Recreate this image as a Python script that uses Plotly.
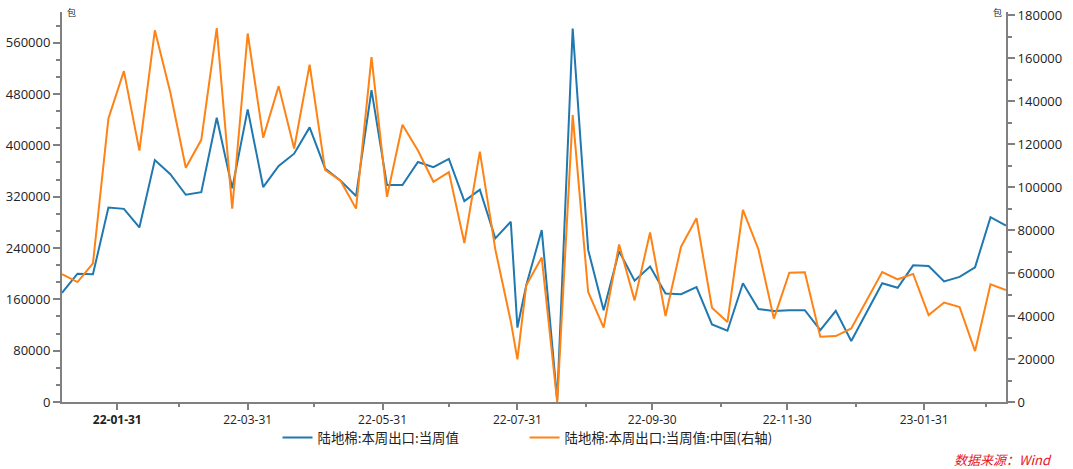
import pandas as pd
import plotly.graph_objects as go

# Weekly report dates (Thursdays) plus one month-end record on 2022-07-31
dates = list(pd.date_range("2022-01-06", "2023-03-09", freq="7D").strftime("%Y-%m-%d"))
dates.insert(dates.index("2022-07-28") + 1, "2022-07-31")

# 陆地棉:本周出口:当周值 (left axis, 包)
exports_total = [
    170000, 200000, 199000, 303000, 301000, 272000, 377000, 355000, 323000, 327000,
    443000, 333000, 456000, 335000, 368000, 387000, 428000, 364000, 345000, 321000,
    486000, 338000, 338000, 374000, 366000, 379000, 313000, 331000, 255000, 281000,
    116000, 182000, 268000, 3000, 582000, 237000, 143000, 235000, 189000, 211000,
    169000, 168000, 179000, 121000, 111000, 185000, 145000, 142000, 143000, 143000,
    112000, 142000, 95000, 139000, 185000, 178000, 213000, 212000, 188000, 195000,
    210000, 288000, 275000,
]

# 陆地棉:本周出口:当周值:中国 (right axis, 包)
exports_china = [
    59500, 55800, 64500, 132000, 154000, 117000, 173000, 144000, 109000, 122000,
    174000, 90000, 171500, 123000, 147000, 118000, 157000, 108000, 103000, 90000,
    160500, 95500, 129000, 117000, 102500, 107000, 74000, 116500, 71000, 37500,
    19800, 54300, 67200, 0, 133600, 51200, 34600, 73300, 47300, 78900,
    40000, 72200, 85500, 43900, 37200, 89400, 71100, 38800, 60200, 60400,
    30400, 30700, 34200, 47000, 60500, 57100, 59600, 40500, 46300, 44200,
    23700, 54800, 52100,
]

tick_dates = ["2022-01-31", "2022-03-31", "2022-05-31", "2022-07-31",
              "2022-09-30", "2022-11-30", "2023-01-31"]
tick_labels = ["<b>22-01-31</b>", "22-03-31", "22-05-31", "22-07-31",
               "22-09-30", "22-11-30", "23-01-31"]
minor_dates = ["2022-02-28", "2022-04-30", "2022-06-30", "2022-08-31",
               "2022-10-31", "2022-12-31", "2023-02-28"]

name_total = "陆地棉:本周出口:当周值"
name_china = "陆地棉:本周出口:当周值:中国(右轴)"

CJK_FONT = "Noto Sans CJK SC, sans-serif"
NUM_FONT = "Open Sans, sans-serif"
AXIS_GRAY = "#808080"
BLUE = "#1f78b0"
ORANGE = "#ff8214"

fig = go.Figure()
fig.add_trace(go.Scatter(x=dates, y=exports_total, name=name_total, mode="lines",
                         line=dict(color=BLUE, width=2), yaxis="y", legend="legend"))
fig.add_trace(go.Scatter(x=dates, y=exports_china, name=name_china, mode="lines",
                         line=dict(color=ORANGE, width=2), yaxis="y2", legend="legend2"))

legend_style = dict(orientation="h", xanchor="left", y=-0.092, yanchor="middle",
                    font=dict(family=CJK_FONT, size=13.4, color="#222"),
                    bgcolor="rgba(0,0,0,0)")

fig.update_layout(
    width=1073, height=469,
    margin=dict(l=62, r=67, t=12, b=67, autoexpand=False),
    paper_bgcolor="white", plot_bgcolor="white",
    font=dict(family=CJK_FONT, size=13, color="#222"),
    showlegend=True,
    legend=dict(x=0.2283, **legend_style),
    legend2=dict(x=0.4900, **legend_style),
    xaxis=dict(
        type="date", range=["2022-01-06", "2023-03-09"],
        showline=True, linecolor=AXIS_GRAY, linewidth=2, mirror=False,
        showgrid=False, zeroline=False,
        tickmode="array", tickvals=tick_dates, ticktext=tick_labels,
        ticks="outside", ticklen=6, tickwidth=1.5, tickcolor=AXIS_GRAY,
        tickfont=dict(family=NUM_FONT, size=12, color="#222"),
        minor=dict(tickmode="array", tickvals=minor_dates, ticks="outside",
                   ticklen=3, tickwidth=1.5, tickcolor=AXIS_GRAY, showgrid=False),
    ),
    yaxis=dict(
        range=[0, 607800], tickmode="linear", tick0=0, dtick=80000, tickformat="d",
        showline=True, linecolor=AXIS_GRAY, linewidth=2,
        showgrid=False, zeroline=False,
        ticks="outside", ticklen=7, tickwidth=1.5, tickcolor=AXIS_GRAY,
        tickfont=dict(family=NUM_FONT, size=13, color="#222"),
        minor=dict(dtick=80000 / 3, tick0=0, ticks="outside", ticklen=4,
                   tickwidth=1.5, tickcolor=AXIS_GRAY, showgrid=False),
    ),
    yaxis2=dict(
        range=[0, 181500], tickmode="linear", tick0=0, dtick=20000, tickformat="d",
        overlaying="y", side="right",
        showline=True, linecolor=AXIS_GRAY, linewidth=2,
        showgrid=False, zeroline=False,
        ticks="outside", ticklen=7, tickwidth=1.5, tickcolor=AXIS_GRAY,
        tickfont=dict(family=NUM_FONT, size=13, color="#222"),
        minor=dict(dtick=10000, tick0=0, ticks="outside", ticklen=4,
                   tickwidth=1.5, tickcolor=AXIS_GRAY, showgrid=False),
    ),
    annotations=[
        dict(text="包", xref="paper", yref="paper", x=0.0, y=1.0, xanchor="left",
             yanchor="middle", xshift=3, yshift=0, showarrow=False,
             font=dict(size=9, color="#222")),
        dict(text="包", xref="paper", yref="paper", x=1.0, y=1.0, xanchor="right",
             yanchor="middle", xshift=-2, yshift=0, showarrow=False,
             font=dict(size=9, color="#222")),
        dict(text="<i>数据来源：Wind</i>", xref="paper", yref="paper",
             x=(1054 - 62) / 944, y=(402 - 460) / 390, xanchor="right", yanchor="middle",
             showarrow=False, font=dict(size=13, color="#e8141e")),
    ],
)

fig.write_html("out.html")
